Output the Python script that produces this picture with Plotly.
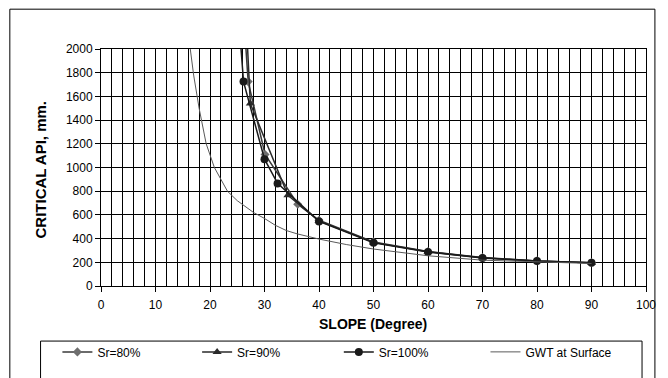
import plotly.graph_objects as go

# ---- data ----
sr80_x = [26.2, 27.0, 30.1, 36.1, 40.0, 50.0, 60.0, 70.0, 80.0, 90.0]
sr80_y = [2270, 1725, 1110, 690, 555, 372, 291, 240, 212, 197]

sr90_x = [26.5, 27.4, 34.3, 40.0, 50.0, 60.0, 70.0, 80.0, 90.0]
sr90_y = [2370, 1540, 765, 550, 368, 289, 238, 211, 196]

sr100_x = [25.3, 26.15, 30.0, 32.4, 40.0, 50.0, 60.0, 70.0, 80.0, 90.0]
sr100_y = [2240, 1725, 1070, 866, 545, 364, 287, 237, 210, 196]

gwt_x = [16.1, 16.4, 17.0, 18.0, 19.3, 20.8, 23.2, 25.0, 28.0, 30.0, 32.0, 34.0,
         36.0, 40.0, 45.0, 50.0, 60.0, 70.0, 80.0, 90.0]
gwt_y = [2100, 2000, 1780, 1500, 1200, 1000, 800, 720, 620, 570, 512, 468,
         440, 396, 350, 312, 255, 218, 202, 190]

x_ticks = [0, 10, 20, 30, 40, 50, 60, 70, 80, 90, 100]
y_ticks = [0, 200, 400, 600, 800, 1000, 1200, 1400, 1600, 1800, 2000]

FONT = "Arial, Liberation Sans, sans-serif"

# ---- layout geometry (page pixels; the page body adds an 8px offset) ----
OFF = 8
W, H = 668 - OFF, 378 - OFF
PL, PR, PT, PB = 101 - OFF, 651 - OFF, 49 - OFF, 290 - OFF
pw, ph = PR - PL, PB - PT


def px_x(p):
    return (p - OFF - PL) / pw


def px_y(p):
    return (PB - (p - OFF)) / ph


fig = go.Figure()

fig.add_trace(go.Scatter(
    x=sr80_x, y=sr80_y, name="Sr=80%", mode="lines+markers", legend="legend",
    line=dict(color="#3a3a3a", width=1.5),
    marker=dict(symbol="diamond", size=7, color="#6e6e6e"),
))
fig.add_trace(go.Scatter(
    x=sr90_x, y=sr90_y, name="Sr=90%", mode="lines+markers", legend="legend2",
    line=dict(color="#2a2a2a", width=1.5),
    marker=dict(symbol="triangle-up", size=8, color="#2a2a2a"),
))
fig.add_trace(go.Scatter(
    x=sr100_x, y=sr100_y, name="Sr=100%", mode="lines+markers", legend="legend3",
    line=dict(color="#1a1a1a", width=1.5),
    marker=dict(symbol="circle", size=8, color="#1a1a1a"),
))
fig.add_trace(go.Scatter(
    x=gwt_x, y=gwt_y, name="GWT at Surface", mode="lines", legend="legend4",
    line=dict(color="#5a5a5a", width=1),
))


def leg(xpage):
    return dict(
        orientation="h", x=px_x(xpage), xanchor="left",
        y=px_y(357), yanchor="middle",
        font=dict(family=FONT, size=12, color="black"),
        bgcolor="rgba(0,0,0,0)", borderwidth=0,
    )


fig.update_layout(
    width=W, height=H,
    margin=dict(l=PL, r=W - PR, t=PT, b=H - PB, pad=0),
    paper_bgcolor="white", plot_bgcolor="white",
    font=dict(family=FONT, size=12, color="black"),
    showlegend=True,
    legend=leg(57), legend2=leg(198), legend3=leg(341), legend4=leg(489),
    xaxis=dict(
        range=[0, 100], tickvals=x_ticks, ticktext=[str(v) for v in x_ticks],
        ticks="outside", ticklen=5, tickcolor="black", ticklabelstandoff=3,
        showgrid=True, gridcolor="#000000", gridwidth=1,
        minor=dict(dtick=2, showgrid=True, gridcolor="#000000", gridwidth=1),
        showline=True, linecolor="#000000", linewidth=1, mirror=True,
        zeroline=False, tickfont=dict(size=12),
    ),
    yaxis=dict(
        range=[0, 2000], tickvals=y_ticks, ticktext=[str(v) for v in y_ticks],
        ticks="outside", ticklen=5, tickcolor="black",
        showgrid=True, gridcolor="#000000", gridwidth=1,
        showline=True, linecolor="#000000", linewidth=1, mirror=True,
        zeroline=False, tickfont=dict(size=12),
    ),
    shapes=[
        dict(type="rect", xref="paper", yref="paper",
             x0=px_x(9), x1=px_x(660), y0=px_y(400), y1=px_y(8.5),
             line=dict(color="black", width=1), layer="below"),
        dict(type="rect", xref="paper", yref="paper",
             x0=px_x(40), x1=px_x(647), y0=px_y(400), y1=px_y(346),
             line=dict(color="black", width=1), layer="below"),
    ],
    annotations=[
        dict(text="<b>SLOPE (Degree)</b>", xref="paper", yref="paper",
             x=px_x(375), y=px_y(329), xanchor="center", yanchor="middle",
             showarrow=False, font=dict(family=FONT, size=14, color="black")),
        dict(text="<b>CRITICAL API, mm.</b>", xref="paper", yref="paper",
             x=px_x(40), y=px_y(172), xanchor="center", yanchor="middle",
             textangle=-90, showarrow=False,
             font=dict(family=FONT, size=15, color="black")),
    ],
)

fig.write_html("out.html")
